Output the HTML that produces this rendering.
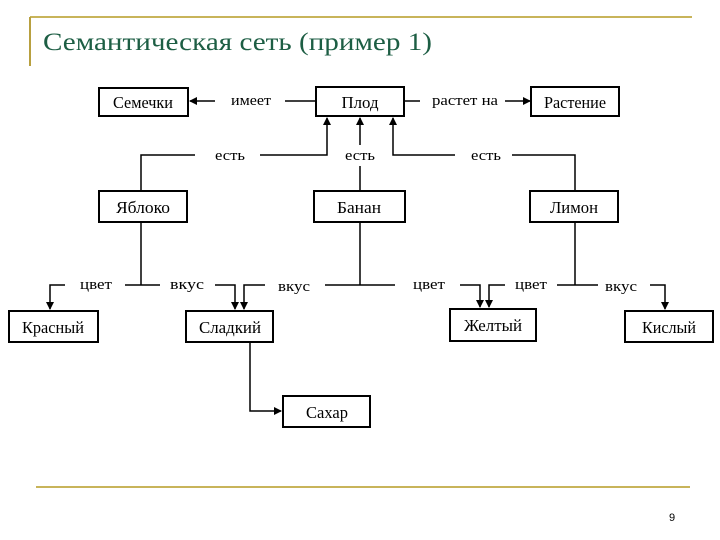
<!DOCTYPE html>
<html><head><meta charset="utf-8"><style>
html,body{margin:0;padding:0;background:#fff;width:720px;height:540px;overflow:hidden}
</style></head><body>
<svg width="720" height="540" viewBox="0 0 720 540" xmlns="http://www.w3.org/2000/svg">
<defs><marker id="a" markerWidth="8" markerHeight="8" refX="7" refY="4" orient="auto" markerUnits="userSpaceOnUse"><path d="M0,0 L8,4 L0,8 z" fill="#000"/></marker></defs>
<line x1="30" y1="17" x2="692" y2="17" stroke="#c8b45a" stroke-width="2"/>
<line x1="30" y1="17" x2="30" y2="66" stroke="#b8a040" stroke-width="2"/>
<text x="43" y="50" font-family="Liberation Serif, serif" font-size="25" fill="#1d5e44" textLength="389" lengthAdjust="spacingAndGlyphs">Семантическая сеть (пример 1)</text>
<line x1="36" y1="487" x2="690" y2="487" stroke="#c8b45a" stroke-width="2"/>
<text x="669" y="521" font-family="Liberation Sans, sans-serif" font-size="11" fill="#000">9</text>
<g fill="none" stroke="#000" stroke-width="2">
<rect x="99" y="88" width="89" height="28"/>
<rect x="316" y="87" width="88" height="29"/>
<rect x="531" y="87" width="88" height="29"/>
<rect x="99" y="191" width="88" height="31"/>
<rect x="314" y="191" width="91" height="31"/>
<rect x="530" y="191" width="88" height="31"/>
<rect x="9" y="311" width="89" height="31"/>
<rect x="186" y="311" width="87" height="31"/>
<rect x="450" y="309" width="86" height="32"/>
<rect x="625" y="311" width="88" height="31"/>
<rect x="283" y="396" width="87" height="31"/>
<g stroke-width="1.5">
<line x1="285" y1="101" x2="316" y2="101"/>
<line x1="215" y1="101" x2="190" y2="101" marker-end="url(#a)"/>
<line x1="404" y1="101" x2="420" y2="101"/>
<line x1="505" y1="101" x2="530" y2="101" marker-end="url(#a)"/>
<polyline points="141,191 141,155 195,155"/>
<polyline points="260,155 327,155 327,118" marker-end="url(#a)"/>
<line x1="360" y1="191" x2="360" y2="166"/>
<line x1="360" y1="145" x2="360" y2="118" marker-end="url(#a)"/>
<polyline points="455,155 393,155 393,118" marker-end="url(#a)"/>
<polyline points="512,155 575,155 575,191"/>
<line x1="141" y1="222" x2="141" y2="285"/>
<polyline points="65,285 50,285 50,309" marker-end="url(#a)"/>
<line x1="125" y1="285" x2="160" y2="285"/>
<polyline points="215,285 235,285 235,309" marker-end="url(#a)"/>
<polyline points="265,285 244,285 244,309" marker-end="url(#a)"/>
<line x1="360" y1="222" x2="360" y2="285"/>
<line x1="325" y1="285" x2="395" y2="285"/>
<polyline points="460,285 480,285 480,307" marker-end="url(#a)"/>
<polyline points="505,285 489,285 489,307" marker-end="url(#a)"/>
<line x1="575" y1="222" x2="575" y2="285"/>
<line x1="557" y1="285" x2="598" y2="285"/>
<polyline points="650,285 665,285 665,309" marker-end="url(#a)"/>
<polyline points="250,342 250,411 281,411" marker-end="url(#a)"/>
</g></g>
<g font-family="Liberation Serif, serif" font-size="17" fill="#000" text-anchor="middle" lengthAdjust="spacingAndGlyphs">
<text x="143" y="108" textLength="60" lengthAdjust="spacingAndGlyphs">Семечки</text>
<text x="360" y="108" textLength="37" lengthAdjust="spacingAndGlyphs">Плод</text>
<text x="575" y="108" textLength="62" lengthAdjust="spacingAndGlyphs">Растение</text>
<text x="143" y="213" textLength="54" lengthAdjust="spacingAndGlyphs">Яблоко</text>
<text x="359" y="213" textLength="44" lengthAdjust="spacingAndGlyphs">Банан</text>
<text x="574" y="213" textLength="48" lengthAdjust="spacingAndGlyphs">Лимон</text>
<text x="53" y="333" textLength="62" lengthAdjust="spacingAndGlyphs">Красный</text>
<text x="230" y="333" textLength="62" lengthAdjust="spacingAndGlyphs">Сладкий</text>
<text x="493" y="331" textLength="58" lengthAdjust="spacingAndGlyphs">Желтый</text>
<text x="669" y="333" textLength="54" lengthAdjust="spacingAndGlyphs">Кислый</text>
<text x="327" y="418" textLength="42" lengthAdjust="spacingAndGlyphs">Сахар</text>
<g font-size="15">
<text x="251" y="105" textLength="40" lengthAdjust="spacingAndGlyphs">имеет</text>
<text x="465" y="105" textLength="66" lengthAdjust="spacingAndGlyphs">растет на</text>
<text x="230" y="160" textLength="30" lengthAdjust="spacingAndGlyphs">есть</text>
<text x="360" y="160" textLength="30" lengthAdjust="spacingAndGlyphs">есть</text>
<text x="486" y="160" textLength="30" lengthAdjust="spacingAndGlyphs">есть</text>
<text x="96" y="289" textLength="32" lengthAdjust="spacingAndGlyphs">цвет</text>
<text x="187" y="289" textLength="34" lengthAdjust="spacingAndGlyphs">вкус</text>
<text x="294" y="291" textLength="32" lengthAdjust="spacingAndGlyphs">вкус</text>
<text x="429" y="289" textLength="32" lengthAdjust="spacingAndGlyphs">цвет</text>
<text x="531" y="289" textLength="32" lengthAdjust="spacingAndGlyphs">цвет</text>
<text x="621" y="291" textLength="32" lengthAdjust="spacingAndGlyphs">вкус</text>
</g></g>
</svg>
</body></html>
